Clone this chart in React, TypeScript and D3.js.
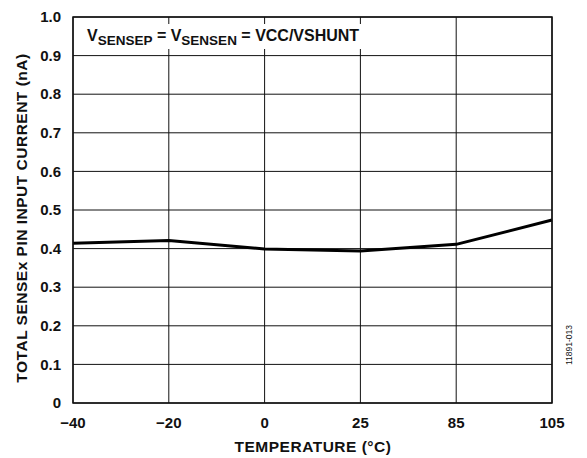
import { useEffect } from "react";
import * as d3 from "d3";

const temps = ["−40", "−20", "0", "25", "85", "105"];
const current = [0.414, 0.421, 0.399, 0.394, 0.411, 0.474];
const yTicks = [0, 0.1, 0.2, 0.3, 0.4, 0.5, 0.6, 0.7, 0.8, 0.9, 1.0];

const W = 587;
const H = 458;
const m = { left: 73, right: 35, top: 17, bottom: 55 };

const App = () => {
  useEffect(() => {
    document.body.style.margin = "0";
  }, []);

  const x = d3
    .scalePoint<string>()
    .domain(temps)
    .range([m.left, W - m.right]);
  const y = d3
    .scaleLinear()
    .domain([0, 1])
    .range([H - m.bottom, m.top]);

  const line = d3
    .line<number>()
    .x((_, i) => x(temps[i])!)
    .y((d) => y(d));

  const font = "'Liberation Sans', Arial, sans-serif";

  return (
    <svg width={W} height={H} style={{ display: "block", fontFamily: font }}>
      <rect width={W} height={H} fill="#fff" />
      {/* grid */}
      {yTicks.map((t) => (
        <line
          key={"y" + t}
          x1={m.left}
          x2={W - m.right}
          y1={y(t)}
          y2={y(t)}
          stroke="#111"
          strokeWidth={1}
        />
      ))}
      {temps.map((t) => (
        <line
          key={"x" + t}
          x1={x(t)}
          x2={x(t)}
          y1={m.top}
          y2={H - m.bottom}
          stroke="#111"
          strokeWidth={1}
        />
      ))}
      {/* annotation box */}
      <rect x={m.left + 7} y={m.top + 7} width={285} height={25} fill="#fff" />
      <text x={m.left + 14} y={m.top + 24} fontSize={16} fontWeight="bold" fill="#111">
        V<tspan fontSize={13.5} dy={4}>SENSEP</tspan>
        <tspan dy={-4}> = V</tspan>
        <tspan fontSize={13.5} dy={4}>SENSEN</tspan>
        <tspan dy={-4}> = VCC/VSHUNT</tspan>
      </text>
      {/* data */}
      <path d={line(current)!} fill="none" stroke="#000" strokeWidth={3} strokeLinejoin="round" />
      {/* frame */}
      <rect
        x={m.left}
        y={m.top}
        width={W - m.left - m.right}
        height={H - m.top - m.bottom}
        fill="none"
        stroke="#111"
        strokeWidth={1.5}
      />
      {/* y tick labels */}
      {yTicks.map((t) => (
        <text
          key={"yl" + t}
          x={m.left - 12}
          y={y(t)}
          dy="0.35em"
          textAnchor="end"
          fontSize={15}
          fontWeight="bold"
          fill="#111"
        >
          {t === 0 ? "0" : d3.format(".1f")(t)}
        </text>
      ))}
      {/* x tick labels */}
      {temps.map((t) => (
        <text
          key={"xl" + t}
          x={x(t)}
          y={H - m.bottom + 25}
          textAnchor="middle"
          fontSize={15}
          fontWeight="bold"
          fill="#111"
        >
          {t}
        </text>
      ))}
      <text
        x={313}
        y={452}
        textAnchor="middle"
        fontSize={15.5}
        letterSpacing={0.5}
        fontWeight="bold"
        fill="#111"
      >
        TEMPERATURE (°C)
      </text>
      <text
        transform={`translate(27,218) rotate(-90)`}
        textAnchor="middle"
        fontSize={15.5}
        letterSpacing={0.5}
        fontWeight="bold"
        fill="#111"
      >
        TOTAL SENSEx PIN INPUT CURRENT (nA)
      </text>
      <text
        transform={`translate(572,345) rotate(-90)`}
        textAnchor="middle"
        fontSize={8.5}
        fill="#111"
      >
        11891-013
      </text>
    </svg>
  );
};

export default App;
